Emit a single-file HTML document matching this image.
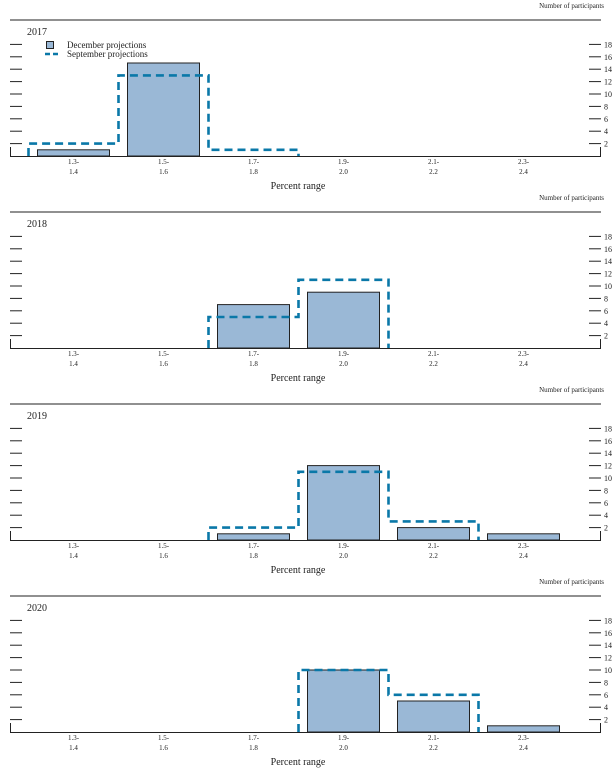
<!DOCTYPE html>
<html><head><meta charset="utf-8"><style>
html,body{margin:0;padding:0;background:#fff;}
svg{display:block;font-family:"Liberation Serif",serif;}
</style></head><body>
<svg id="chart" width="612" height="771" viewBox="0 0 612 771" xmlns="http://www.w3.org/2000/svg"></svg>
<script>
const categoriesTop = ["1.3-","1.5-","1.7-","1.9-","2.1-","2.3-"];
const categoriesBottom = ["1.4","1.6","1.8","2.0","2.2","2.4"];
const years = ["2017","2018","2019","2020"];
const december2017 = [1,15,0,0,0,0];
const september2017 = [2,13,1,0,0,0];
const december2018 = [0,0,7,9,0,0];
const september2018 = [0,0,5,11,0,0];
const december2019 = [0,0,1,12,2,1];
const september2019 = [0,0,2,11,3,0];
const december2020 = [0,0,0,10,5,1];
const september2020 = [0,0,0,10,6,0];
const yTicks = [2,4,6,8,10,12,14,16,18];

const decSeries=[december2017,december2018,december2019,december2020];
const sepSeries=[september2017,september2018,september2019,september2020];
const NS="http://www.w3.org/2000/svg";
const svg=document.getElementById('chart');
function mk(tag,attrs,parent){const e=document.createElementNS(NS,tag);for(const k in attrs)e.setAttribute(k,attrs[k]);(parent||svg).appendChild(e);return e;}
function xC(i){return 73.5+i*90;}
const unit=6.2;
for(let p=0;p<4;p++){
  const off=p*192;
  const base=156+off;
  const yS=v=>base-v*unit;
  const g=mk('g',{});
  
  
  const np=mk('text',{x:604,y:8+off,'font-size':7,'text-anchor':'end',fill:'#222'},g);
  np.textContent='Number of participants';
  
  
  const rule=mk('line',{x1:10,x2:601,y1:20+off,y2:20+off,stroke:'#222','stroke-width':1},g);
  
  
  const yr=mk('text',{x:27,y:35+off,'font-size':10,fill:'#222'},g);
  yr.textContent=years[p];
  
  
  // axes
  const ax=mk('path',{d:`M10.5 ${base-9} V${base+0.5} H600.5 V${base-9}`,fill:'none',stroke:'#222','stroke-width':1},g);
  
  
  yTicks.forEach(t=>{
    const y=yS(t);
    const lt=mk('line',{x1:10,x2:22,y1:y,y2:y,stroke:'#222','stroke-width':1},g);
    
    
    const rt=mk('line',{x1:589,x2:601,y1:y,y2:y,stroke:'#222','stroke-width':1},g);
    
    
    const tl=mk('text',{x:604,y:y+3,'font-size':8,fill:'#222'},g);
    tl.textContent=t;
    
    
  });
  // bars
  decSeries[p].forEach((v,i)=>{
    if(v<=0)return;
    const r=mk('rect',{x:xC(i)-36,y:yS(v),width:72,height:v*unit,fill:'#9ab8d6',stroke:'#222','stroke-width':1},g);
    
    
  });
  // september step outline
  const s=sepSeries[p];
  let first=s.findIndex(v=>v>0), last=s.length-1-[...s].reverse().findIndex(v=>v>0);
  if(first>=0){
    let d=`M${xC(first)-45} ${base}`;
    for(let i=first;i<=last;i++){d+=` V${yS(s[i])} H${xC(i)+45}`;}
    d+=` V${base}`;
    const pth=mk('path',{d:d,fill:'none',stroke:'#0a78a8','stroke-width':2.6,'stroke-dasharray':'8,5'},g);
    
    
  }
  categoriesTop.forEach((c,i)=>{
    const t1=mk('text',{x:xC(i),y:164+off,'font-size':7,'text-anchor':'middle',fill:'#222'},g);
    t1.textContent=c;
    
    
    const t2=mk('text',{x:xC(i),y:174+off,'font-size':7,'text-anchor':'middle',fill:'#222'},g);
    t2.textContent=categoriesBottom[i];
    
    
  });
  const xt=mk('text',{x:298,y:189+off,'font-size':10,'text-anchor':'middle',fill:'#222'},g);
  xt.textContent='Percent range';
  
  
  if(p===0){
    const lg=mk('g',{},g);
    
    
    const sq=mk('rect',{x:46.5,y:41.5,width:7,height:7,fill:'#9ab8d6',stroke:'#222','stroke-width':1},lg);
    
    
    const l1=mk('text',{x:67,y:48,'font-size':9,fill:'#222'},lg);
    l1.textContent='December projections';
    
    
    const ln=mk('line',{x1:45,x2:60,y1:54,y2:54,stroke:'#0a78a8','stroke-width':2.6,'stroke-dasharray':'5,3'},lg);
    
    
    const l2=mk('text',{x:67,y:57,'font-size':9,fill:'#222'},lg);
    l2.textContent='September projections';
    
    
  }
}
</script>
</body></html>
